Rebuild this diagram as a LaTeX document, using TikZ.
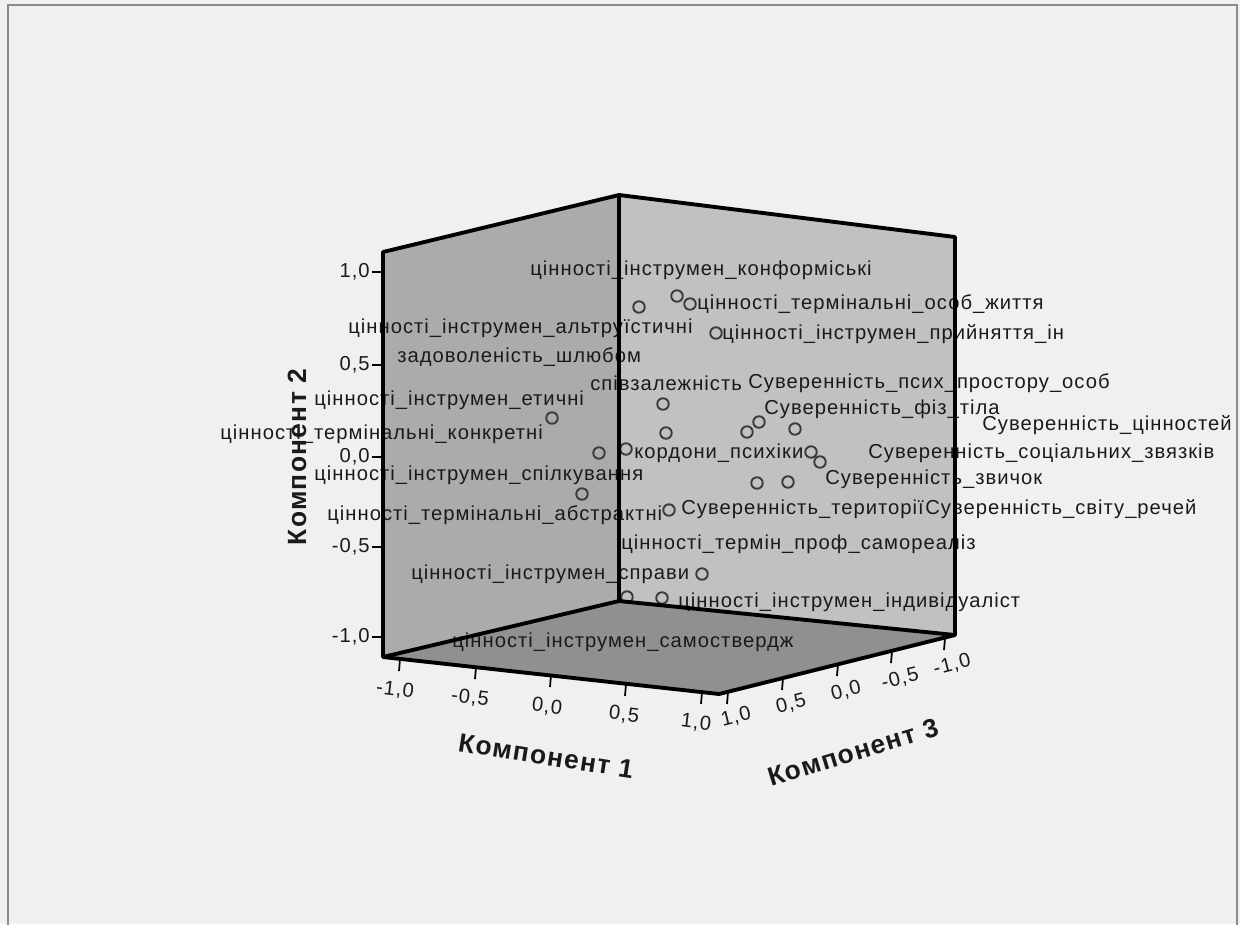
\documentclass[tikz,border=0pt]{standalone}
\usepackage{fontspec}
\setmainfont{Liberation Sans}[LetterSpace=5]
\usepackage{tikz}

\definecolor{bgcol}{HTML}{F0F0F0}
\definecolor{framecol}{HTML}{8A8A8A}
\definecolor{leftwall}{HTML}{ABABAB}
\definecolor{rightwall}{HTML}{C1C1C1}
\definecolor{floorcol}{HTML}{909090}
\definecolor{txtcol}{HTML}{1A1A1A}
\definecolor{dotcol}{HTML}{3C3C3C}

\begin{document}
\begin{tikzpicture}[x=0.02cm,y=-0.02cm,
  lbl/.style={anchor=west,inner sep=0pt,text=txtcol,font=\fontsize{11.5}{13}\selectfont},
  tlbl/.style={inner sep=0pt,text=txtcol,font=\fontsize{11.5}{13}\selectfont},
  dot/.style={circle,draw=dotcol,line width=1.1pt,minimum size=0.23cm,inner sep=0pt},
  ttl/.style={inner sep=0pt,text=txtcol,font=\fontsize{15}{17}\bfseries\selectfont},
  edge/.style={line width=2.2pt,line join=round}]
\useasboundingbox (0,0) rectangle (1240,924);
\fill[bgcol] (0,0) rectangle (1240,924);
\draw[framecol,line width=1.3pt] (8,930) -- (8,5) -- (1237,5) -- (1237,930);

% cube corners
\coordinate (lt) at (383,252);
\coordinate (bt) at (619,195);
\coordinate (rt) at (955,237);
\coordinate (lb) at (383,657);
\coordinate (bb) at (619,601);
\coordinate (rb) at (955,635);
\coordinate (fb) at (719,694);

\fill[leftwall] (lt) -- (bt) -- (bb) -- (lb) -- cycle;
\fill[rightwall] (bt) -- (rt) -- (rb) -- (bb) -- cycle;
\fill[floorcol] (lb) -- (bb) -- (rb) -- (fb) -- cycle;

% points
\foreach \x/\y [count=\i] in {639/307,677/296,690/304,716/333,552/418,663/404,666/433,
  747/432,759/422,795/429,599/453,626/449,811/452,820/462,757/483,788/482,
  582/494,669/510,702/574,627/597,662/598}
  \node[dot] (p\i) at (\x,\y) {};

% labels
\node[lbl] (l1) at (530,270) {цінності\_інструмен\_конформіські};
\node[lbl] (l2) at (697,304) {цінності\_термінальні\_особ\_життя};
\node[lbl] (l3) at (348,328) {цінності\_інструмен\_альтруїстичні};
\node[lbl] (l4) at (722,334) {цінності\_інструмен\_прийняття\_ін};
\node[lbl] (l5) at (397,357) {задоволеність\_шлюбом};
\node[lbl] (l6) at (590,383) {співзалежність};
\node[lbl] (l7) at (748,383) {Суверенність\_псих\_простору\_особ};
\node[lbl] (l8) at (314,400) {цінності\_інструмен\_етичні};
\node[lbl] (l9) at (764,409) {Суверенність\_фіз\_тіла};
\node[lbl] (l10) at (982,425) {Суверенність\_цінностей};
\node[lbl] (l11) at (220,434) {цінності\_термінальні\_конкретні};
\node[lbl] (l12) at (634,453) {кордони\_психіки};
\node[lbl] (l13) at (868,453) {Суверенність\_соціальних\_звязків};
\node[lbl] (l14) at (314,475) {цінності\_інструмен\_спілкування};
\node[lbl] (l15) at (825,479) {Суверенність\_звичок};
\node[lbl] (l16) at (327,515) {цінності\_термінальні\_абстрактні};
\node[lbl] (l17) at (681,509) {Суверенність\_території};
\node[lbl] (l18) at (925,509) {Суверенність\_світу\_речей};
\node[lbl] (l19) at (621,544) {цінності\_термін\_проф\_самореаліз};
\node[lbl] (l20) at (411,574) {цінності\_інструмен\_справи};
\node[lbl] (l21) at (678,602) {цінності\_інструмен\_індивідуаліст};
\node[lbl] (l22) at (452,642) {цінності\_інструмен\_самоствердж};

% cube edges
\draw[edge] (lt) -- (bt) -- (rt) -- (rb) -- (fb) -- (lb) -- cycle;
\draw[edge] (bt) -- (bb);
\draw[edge] (lb) -- (bb) -- (rb);

% axis 2
\foreach \yy/\t in {272/{1,0},365/{0,5},457/{0,0},547/{-0,5},637/{-1,0}}{
  \draw[line width=1pt] (372,\yy) -- (383,\yy);
  \node[tlbl,anchor=east] at (370,\yy) {\t};
}
\node[ttl,rotate=90] (ax2) at (297,457) {Компонент 2};

% axis 1
\foreach \xx/\yy/\lx/\ly/\t in {400/659/395/690/{-1,0},476/667/470/698/{-0,5},
  551/675/547/707/{0,0},626/684/624/715/{0,5},702/692/696/723/{1,0}}{
  \draw[line width=1pt] (\xx,\yy) -- ++(-1,12);
  \node[tlbl,rotate=-7] at (\lx,\ly) {\t};
}
\node[ttl,rotate=-9] (ax1) at (546,756) {Компонент 1};

% axis 3
\foreach \xx/\yy/\lx/\ly/\t in {728/692/736/717/{1,0},783/678/791/704/{0,5},
  838/664/846/691/{0,0},892/651/900/679/{-0,5},945/638/952/665/{-1,0}}{
  \draw[line width=1pt] (\xx,\yy) -- ++(-1,12);
  \node[tlbl,rotate=14] at (\lx,\ly) {\t};
}
\node[ttl,rotate=17] (ax3) at (853,752) {Компонент 3};
\end{tikzpicture}
\end{document}
